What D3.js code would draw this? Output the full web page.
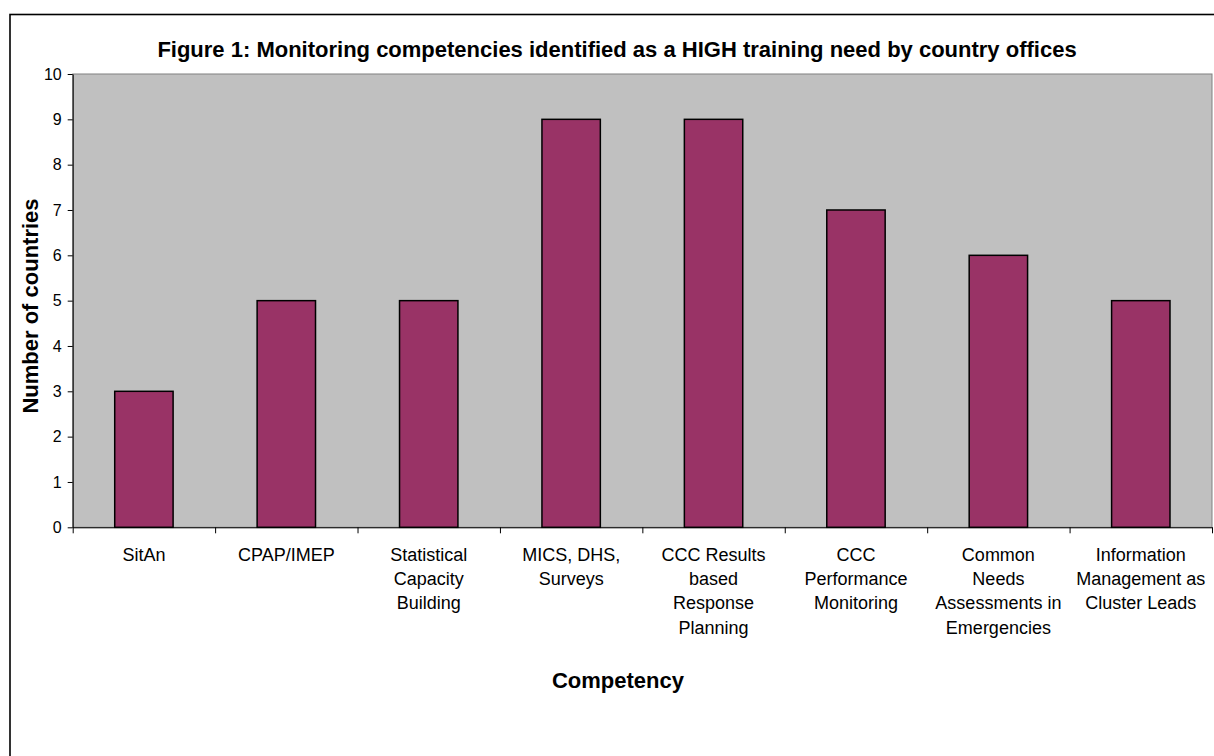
<!DOCTYPE html>
<html>
<head>
<meta charset="utf-8">
<script src="https://cdn.jsdelivr.net/npm/d3@7"></script>
<style>
  body { margin: 0; background: #fff; }
  text { font-family: "Liberation Sans", Arial, sans-serif; }
</style>
</head>
<body>
<div id="chart"></div>
<script>
const categories = ["SitAn", "CPAP/IMEP", "Statistical Capacity Building", "MICS, DHS, Surveys",
    "CCC Results based Response Planning", "CCC Performance Monitoring",
    "Common Needs Assessments in Emergencies", "Information Management as Cluster Leads"];
const labelLines = [
    ["SitAn"],
    ["CPAP/IMEP"],
    ["Statistical", "Capacity", "Building"],
    ["MICS, DHS,", "Surveys"],
    ["CCC Results", "based", "Response", "Planning"],
    ["CCC", "Performance", "Monitoring"],
    ["Common", "Needs", "Assessments in", "Emergencies"],
    ["Information", "Management as", "Cluster Leads"]
];
const values = [3, 5, 5, 9, 9, 7, 6, 5];
const yTicks = [0, 1, 2, 3, 4, 5, 6, 7, 8, 9, 10];

const W = 1214, H = 756;
const plot = { left: 72.7, right: 1212, top: 74, bottom: 527.3 };

const svg = d3.select("#chart")
    .append("svg")
    .attr("width", W)
    .attr("height", H);

// outer chart border (runs off the right and bottom of the picture)
svg.append("rect")
    .attr("x", 10).attr("y", 14.5)
    .attr("width", 1240).attr("height", 800)
    .attr("fill", "#fff")
    .attr("stroke", "#000")
    .attr("stroke-width", 1.6);

const x = d3.scaleBand()
    .domain(categories)
    .range([plot.left, plot.right])
    .paddingInner(0.59)
    .paddingOuter(0.295);

// boundaries between categories, for the tick marks
const xEdge = d3.scaleLinear().domain([0, categories.length]).range([plot.left, plot.right]);

const y = d3.scaleLinear().domain([0, 10]).range([plot.bottom, plot.top]);

// plot area
svg.append("rect")
    .attr("x", plot.left).attr("y", plot.top)
    .attr("width", plot.right - plot.left)
    .attr("height", plot.bottom - plot.top)
    .attr("fill", "#c0c0c0")
    .attr("stroke", "#808080")
    .attr("stroke-width", 1);

// bars
svg.selectAll("rect.bar")
    .data(values)
    .enter()
    .append("rect")
    .attr("class", "bar")
    .attr("x", (d, i) => x(categories[i]))
    .attr("y", d => y(d))
    .attr("width", x.bandwidth())
    .attr("height", d => y(0) - y(d))
    .attr("fill", "#993366")
    .attr("stroke", "#000")
    .attr("stroke-width", 1.5);

// Y axis
const yAxis = svg.append("g")
    .attr("transform", `translate(${plot.left},0)`)
    .call(d3.axisLeft(y).tickValues(yTicks).tickSize(5).tickPadding(6).tickSizeOuter(0));
yAxis.select(".domain").attr("stroke", "#000");
yAxis.selectAll(".tick line").attr("stroke", "#000");
yAxis.selectAll(".tick text")
    .style("font-size", "16px")
    .attr("fill", "#000");

// X axis (ticks on category boundaries)
const xAxis = svg.append("g")
    .attr("transform", `translate(0,${plot.bottom})`)
    .call(d3.axisBottom(xEdge).ticks(categories.length).tickSize(6).tickSizeOuter(0).tickFormat(""));
xAxis.select(".domain").attr("stroke", "#000");
xAxis.selectAll(".tick line").attr("stroke", "#000");

// category labels
const labels = svg.append("g")
    .selectAll("text")
    .data(labelLines)
    .enter()
    .append("text")
    .attr("text-anchor", "middle")
    .style("font-size", "18px")
    .attr("fill", "#000")
    .attr("transform", (d, i) => `translate(${x(categories[i]) + x.bandwidth() / 2},561)`);
labels.selectAll("tspan")
    .data(d => d)
    .enter()
    .append("tspan")
    .attr("x", 0)
    .attr("y", (d, i) => i * 24.2)
    .text(d => d);

// title
svg.append("text")
    .attr("x", 617)
    .attr("y", 57)
    .attr("text-anchor", "middle")
    .style("font-size", "22px")
    .style("font-weight", "bold")
    .text("Figure 1: Monitoring competencies identified as a HIGH training need by country offices");

// Y axis label
svg.append("text")
    .attr("text-anchor", "middle")
    .attr("transform", `translate(37.5,${306}) rotate(-90)`)
    .style("font-size", "22px")
    .style("font-weight", "bold")
    .text("Number of countries");

// X axis label
svg.append("text")
    .attr("text-anchor", "middle")
    .attr("x", 618)
    .attr("y", 688)
    .style("font-size", "22px")
    .style("font-weight", "bold")
    .text("Competency");
</script>
</body>
</html>
